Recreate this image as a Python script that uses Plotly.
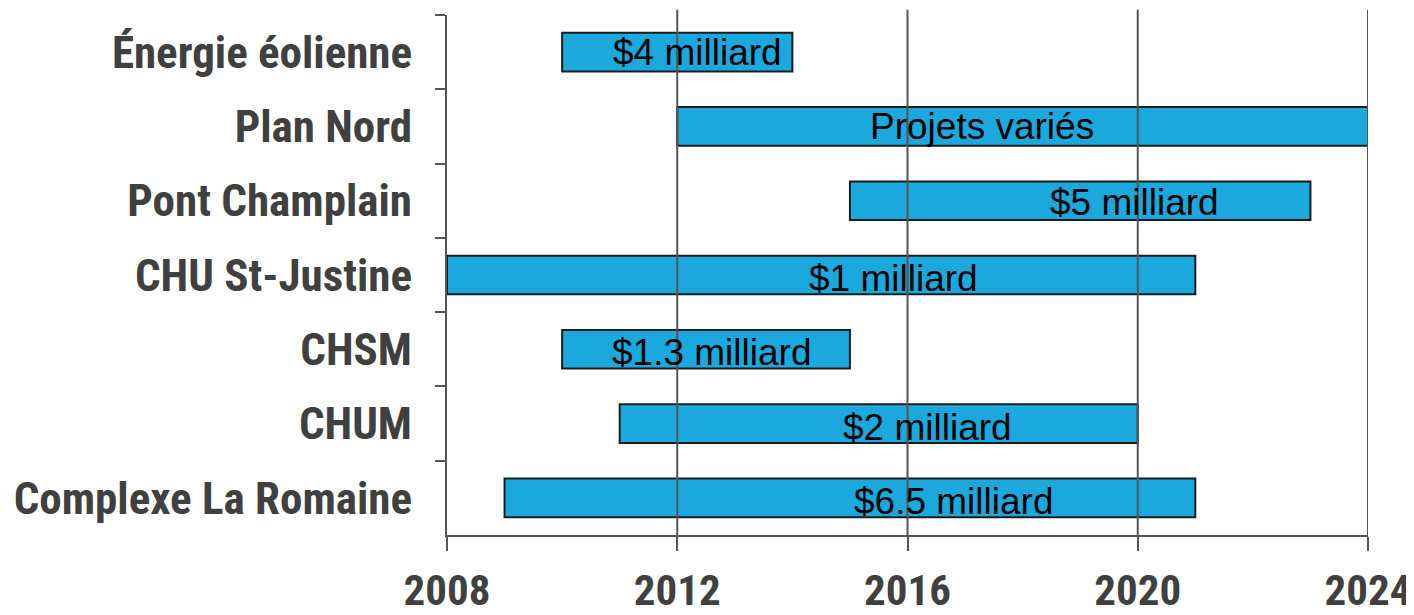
import plotly.graph_objects as go

# ---- data ----
projects = ["Énergie éolienne", "Plan Nord", "Pont Champlain", "CHU St-Justine",
            "CHSM", "CHUM", "Complexe La Romaine"]
start_year = [2010, 2012, 2015, 2008, 2010, 2011, 2009]
end_year = [2014, 2024, 2023, 2021, 2015, 2020, 2021]
cost_labels = ["$4 milliard", "Projets variés", "$5 milliard", "$1 milliard",
               "$1.3 milliard", "$2 milliard", "$6.5 milliard"]
label_year = [2012.35, 2017.3, 2019.95, 2015.75, 2012.6, 2016.35, 2016.8]
x_ticks = [2008, 2012, 2016, 2020, 2024]

# ---- styles ----
label_dy = [0, 0, 2, 3, 3, 4, 4]  # px downward shift of bar labels
BAR_COLOR = "#1BA8DC"
EDGE = "#1c1c1c"
AXIS = "#555555"
LABEL_COLOR = "#404040"
NARROW = "Liberation Sans Narrow, Arial Narrow, Roboto Condensed, Liberation Sans, Arial, sans-serif"

durations = [e - s for s, e in zip(start_year, end_year)]

fig = go.Figure(
    go.Bar(
        y=projects, x=durations, base=start_year, orientation="h", width=0.52,
        marker=dict(color=BAR_COLOR, line=dict(color=EDGE, width=2)),
        hoverinfo="skip",
    )
)

for name, txt, lx, dy in zip(projects, cost_labels, label_year, label_dy):
    fig.add_annotation(
        x=lx, y=name, text=txt, showarrow=False, yshift=-dy,
        font=dict(family="Liberation Sans, Arial, sans-serif", size=37, color="black"),
    )

for t in x_ticks[1:]:
    fig.add_shape(type="line", xref="x", yref="paper", x0=t, x1=t, y0=0, y1=1.01,
                  line=dict(color=AXIS, width=2), layer="above")

fig.update_layout(
    width=1414, height=615,
    margin=dict(l=439, r=54, t=7, b=88, autoexpand=False),
    paper_bgcolor="white", plot_bgcolor="white",
    showlegend=False,
)
fig.update_xaxes(
    range=[2008, 2024], tickvals=x_ticks, ticktext=[str(t) for t in x_ticks],
    showgrid=False, zeroline=False, automargin=False,
    showline=True, linecolor=AXIS, linewidth=2,
    ticks="outside", ticklen=14, tickwidth=2, tickcolor=AXIS,
    tickfont=dict(family=NARROW, size=43, color=LABEL_COLOR, weight="bold"),
    ticklabelstandoff=2, ticklabeloverflow="allow",
)
fig.update_yaxes(
    type="category", categoryorder="array", categoryarray=projects,
    autorange="reversed", automargin=False,
    showgrid=False, zeroline=False,
    showline=True, linecolor=AXIS, linewidth=2,
    ticks="outside", ticklen=10, tickwidth=2, tickcolor=AXIS, tickson="boundaries",
    tickfont=dict(family=NARROW, size=45, color=LABEL_COLOR, weight="bold"),
    ticklabelstandoff=24,
)

fig.write_html("out.html")
